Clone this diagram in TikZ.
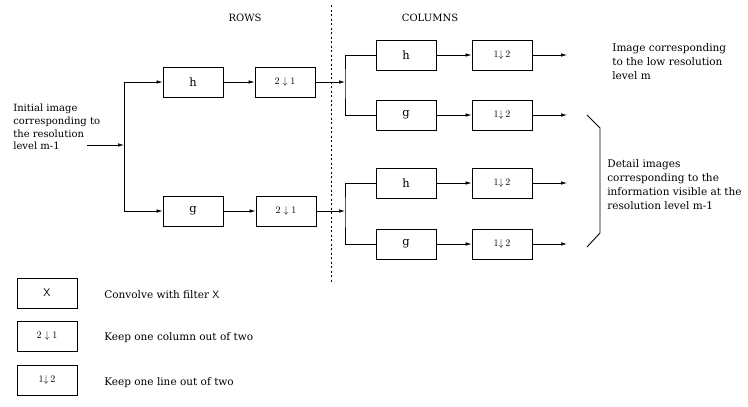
\documentclass[tikz,border=0pt]{standalone}
\usepackage{fontspec}
\setmainfont{DejaVu Serif}
\usetikzlibrary{arrows.meta}

\tikzset{
  blk/.style={draw, line width=0.8pt, minimum width=60pt, minimum height=30pt, inner sep=0pt},
  arr/.style={-{Latex[length=6pt,width=3.5pt]}},
  txt/.style={align=left, inner sep=0pt, font=\fontsize{10.5}{14}\selectfont},
  head/.style={inner sep=0pt, font=\fontsize{10}{12}\selectfont},
  flt/.style={font=\fontsize{11.5}{12}\selectfont},
  dwn/.style={font=\fontsize{10}{12}\selectfont}
}

\begin{document}
\begin{tikzpicture}[x=1pt, y=-1pt, line width=0.7pt]
    \useasboundingbox (0,0) rectangle (748,407);

    % headings and separator
    \node[head] (rows) at (245,18) {ROWS};
    \node[head] (cols) at (430,18) {COLUMNS};
    \draw[line width=0.6pt, dash pattern=on 2pt off 2.5pt] (331,5) -- (331,282);

    % filtering along rows
    \node[txt, anchor=north west, font=\fontsize{10}{12.6}\selectfont] (init) at (13,104) {Initial image\\corresponding to\\the resolution\\level m-1};
    \coordinate (in) at (87,145);
    \coordinate (j0) at (124,145);
    \node[blk, flt] (hr) at (193,82) {h};
    \node[blk, dwn] (dr1) at (285,82) {$2\downarrow 1$};
    \node[blk, flt] (gr) at (193,211) {g};
    \node[blk, dwn] (dr2) at (286,211) {$2\downarrow 1$};
    \draw[arr] (in) -- (j0);
    \draw[arr] (j0) |- (hr);
    \draw[arr] (j0) |- (gr);
    \draw[arr] (hr) -- (dr1);
    \draw[arr] (gr) -- (dr2);

    % filtering along columns
    \coordinate (j1) at (345,82);
    \coordinate (j2) at (345,211);
    \node[blk, flt] (hc1) at (406,55) {h};
    \node[blk, dwn] (dc1) at (502,55) {$1{\downarrow}\,2$};
    \node[blk, flt] (gc1) at (406,115) {g};
    \node[blk, dwn] (dc2) at (502,115) {$1{\downarrow}\,2$};
    \node[blk, flt] (hc2) at (406,183) {h};
    \node[blk, dwn] (dc3) at (502,183) {$1{\downarrow}\,2$};
    \node[blk, flt] (gc2) at (406,244) {g};
    \node[blk, dwn] (dc4) at (502,244) {$1{\downarrow}\,2$};
    \draw[arr] (dr1) -- (j1);
    \draw[arr] (dr2) -- (j2);
    \draw (hc1.west) -| (j1) |- (gc1.west);
    \draw (hc2.west) -| (j2) |- (gc2.west);
    \draw[arr] (hc1) -- (dc1);
    \draw[arr] (gc1) -- (dc2);
    \draw[arr] (hc2) -- (dc3);
    \draw[arr] (gc2) -- (dc4);

    % outputs
    \coordinate (o1) at (567,55);
    \coordinate (o2) at (567,115);
    \coordinate (o3) at (567,183);
    \coordinate (o4) at (567,244);
    \draw[arr] (dc1) -- (o1);
    \draw[arr] (dc2) -- (o2);
    \draw[arr] (dc3) -- (o3);
    \draw[arr] (dc4) -- (o4);
    \node[txt, anchor=north west] (low) at (612,43) {Image corresponding\\to the low resolution\\level m};
    \draw[line width=0.9pt] (587,115) -- (600,128) -- (600,233) -- (587,247);
    \node[txt, anchor=north west] (det) at (607,159) {Detail images\\corresponding to the\\information visible at the\\resolution level m-1};

    % legend
    \node[blk, font=\sffamily\fontsize{11}{12}\selectfont] (kx) at (47,293) {X};
    \node[blk, dwn] (k2) at (47,336) {$2\downarrow 1$};
    \node[blk, dwn] (k1) at (47,380) {$1{\downarrow}\,2$};
    \node[txt, anchor=west] (tx) at (104,295) {Convolve with filter \textsf{X}};
    \node[txt, anchor=west] (t2) at (104,338) {Keep one column out of two};
    \node[txt, anchor=west] (t1) at (104,383) {Keep one line out of two};
\end{tikzpicture}
\end{document}
